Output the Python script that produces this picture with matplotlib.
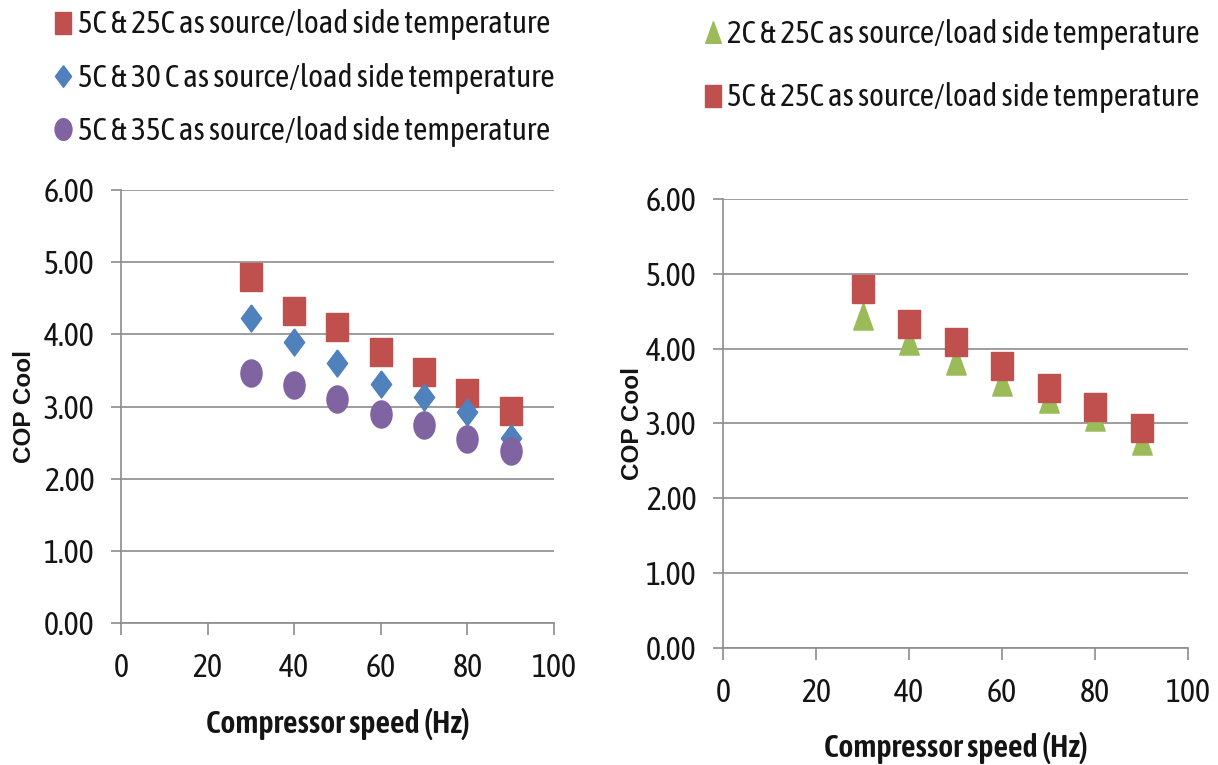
import numpy as np
import matplotlib
matplotlib.use("Agg")
import matplotlib.pyplot as plt
from matplotlib.path import Path
from matplotlib.transforms import Affine2D

# data
speed = [30, 40, 50, 60, 70, 80, 90]
cop_5_25 = [4.80, 4.32, 4.10, 3.76, 3.48, 3.19, 2.94]
cop_5_30 = [4.22, 3.90, 3.61, 3.31, 3.13, 2.92, 2.57]
cop_5_35 = [3.46, 3.30, 3.10, 2.90, 2.75, 2.55, 2.38]

cop_5_25_b = [4.80, 4.33, 4.09, 3.77, 3.48, 3.22, 2.94]
cop_2_25 = [4.43, 4.10, 3.83, 3.55, 3.32, 3.08, 2.76]

yticks = [0, 1, 2, 3, 4, 5, 6]
xticks = [0, 20, 40, 60, 80, 100]

lbl_5_25 = "5C & 25C as source/load side temperature"
lbl_5_30 = "5C & 30 C as source/load side temperature"
lbl_5_35 = "5C & 35C as source/load side temperature"
lbl_2_25 = "2C & 25C as source/load side temperature"

RED = "#C0504D"
BLUE = "#4F81BD"
PURPLE = "#8064A2"
GREEN = "#9BBB59"
GRID = "#8C8C8C"
TXT = "#141414"

# excel markers are a bit taller than wide in this picture
sq = [(-0.78, -1), (0.78, -1), (0.78, 1), (-0.78, 1), (-0.78, -1)]
dia = [(0, 1), (0.75, 0), (0, -1), (-0.75, 0), (0, 1)]
tri = [(0, 1), (0.72, -1), (-0.72, -1), (0, 1)]
ell = Path.unit_circle().transformed(Affine2D().scale(0.78, 1.0))

NARROW = ["Asap Condensed", "Liberation Sans", "DejaVu Sans"]
tick_fs = 23
ms = 19.5

fig = plt.figure(figsize=(12.18, 7.65), dpi=100)
ax1 = fig.add_axes([0.0993, 0.1856, 0.3555, 0.566])
ax2 = fig.add_axes([0.5936, 0.153, 0.3818, 0.587])


def style(ax, xlab_pad, ylab_pad):
    ax.set_xlim(0, 100)
    ax.set_ylim(0, 6)
    ax.set_xticks(xticks)
    ax.set_yticks(yticks)
    ax.set_yticklabels(["%.2f" % v for v in yticks], family=NARROW, fontsize=tick_fs, color=TXT)
    ax.set_xticklabels([str(v) for v in xticks], family=NARROW, fontsize=tick_fs, color=TXT)
    for s in ["top", "right"]:
        ax.spines[s].set_visible(False)
    for s in ["left", "bottom"]:
        ax.spines[s].set_color(GRID)
        ax.spines[s].set_linewidth(1.2)
    ax.tick_params(axis="y", direction="out", length=7.2, width=1.2, color=GRID, pad=12)
    ax.tick_params(axis="x", direction="out", length=8.6, width=1.2, color=GRID, pad=13)
    ax.grid(axis="y", color=GRID, linewidth=1.2)
    ax.set_axisbelow(True)
    ax.set_ylabel("COP Cool", family="Liberation Sans", fontweight="bold", fontsize=17.5, color=TXT,
                  labelpad=ylab_pad)
    ax.set_xlabel("Compressor speed (Hz)", family=NARROW, fontweight="semibold", fontsize=23, color=TXT,
                  labelpad=xlab_pad)


style(ax1, 17, 5.5)
style(ax2, 16.5, 1.5)

ax1.plot(speed, cop_5_25, linestyle="none", marker=sq, markersize=ms, color=RED, label=lbl_5_25)
ax1.plot(speed, cop_5_30, linestyle="none", marker=dia, markersize=ms, color=BLUE, label=lbl_5_30)
ax1.plot(speed, cop_5_35, linestyle="none", marker=ell, markersize=ms, color=PURPLE, label=lbl_5_35)

ax2.plot(speed, cop_2_25, linestyle="none", marker=tri, markersize=ms, color=GREEN, label=lbl_2_25)
ax2.plot(speed, cop_5_25_b, linestyle="none", marker=sq, markersize=ms, color=RED, label=lbl_5_25)

for ax in (ax1, ax2):
    for ln in ax.lines:
        ln.set_clip_on(False)

leg_kw = dict(frameon=False, handlelength=0.55, handletextpad=0.2, borderpad=0, borderaxespad=0,
              markerscale=0.8, prop={"family": NARROW, "size": 22.5})
leg1 = ax1.legend(loc="upper left", bbox_to_anchor=(0.045, 0.9876), bbox_transform=fig.transFigure,
                  labelspacing=0.71, **leg_kw)
leg2 = ax2.legend(loc="upper left", bbox_to_anchor=(0.578, 0.9756), bbox_transform=fig.transFigure,
                  labelspacing=1.05, **leg_kw)
for leg in (leg1, leg2):
    for t in leg.get_texts():
        t.set_color(TXT)

fig.savefig("out.png", dpi=100)
